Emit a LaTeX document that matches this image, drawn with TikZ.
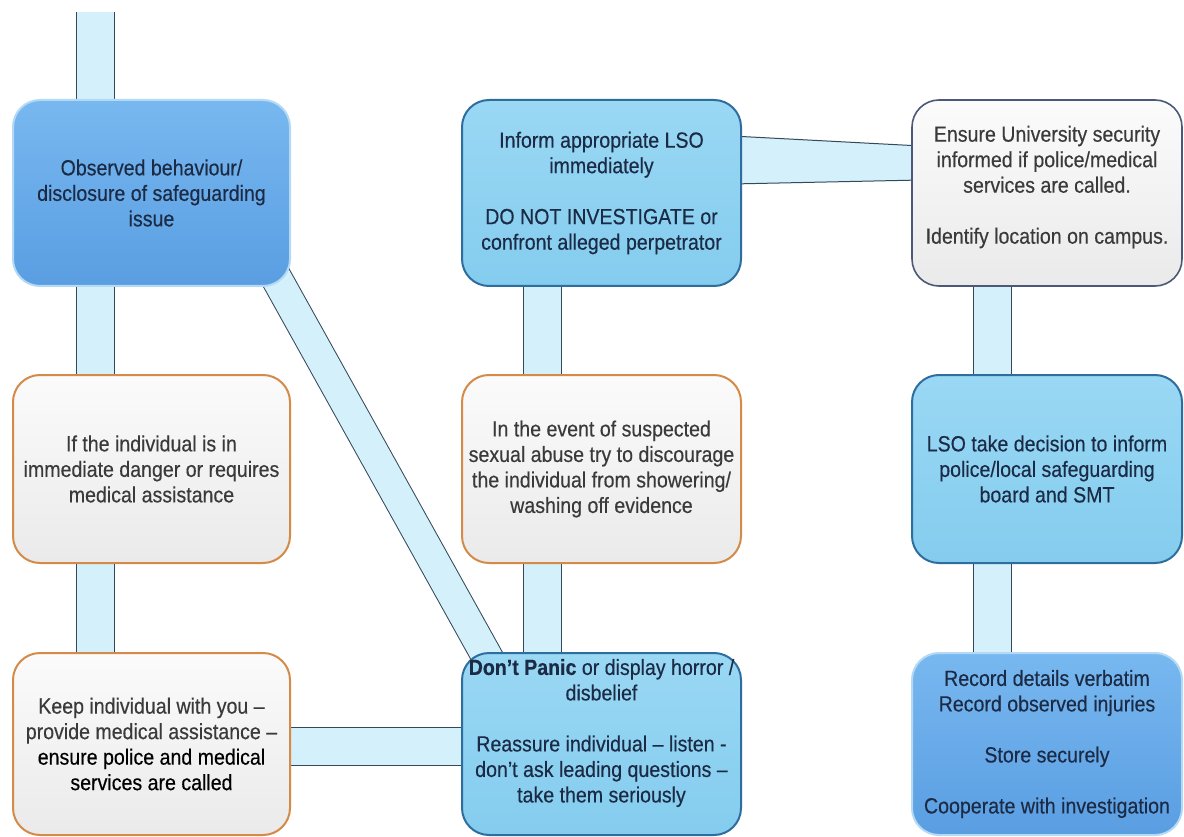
\documentclass[tikz,border=0pt]{standalone}
\usepackage{fontspec}
\setmainfont{Liberation Sans}[FakeStretch=0.89, FakeBold=0.35]
\usetikzlibrary{calc}
\pgfdeclarelayer{back}
\pgfdeclarelayer{bg}
\pgfsetlayers{back,bg,main}
\definecolor{bandfill}{HTML}{D3F0FB}
\definecolor{bandedge}{HTML}{34495A}
\definecolor{dbtop}{HTML}{78B8F0}
\definecolor{dbbot}{HTML}{5A9EE2}
\definecolor{dbedge}{HTML}{B4D9F5}
\definecolor{lbtop}{HTML}{9AD8F4}
\definecolor{lbbot}{HTML}{84CCEE}
\definecolor{lbedge}{HTML}{2E6E9E}
\definecolor{orgedge}{HTML}{D48A48}
\definecolor{grtop}{HTML}{FBFBFB}
\definecolor{grbot}{HTML}{EAEAEA}
\definecolor{gredge}{HTML}{4C5878}
\definecolor{navytext}{HTML}{1C2B45}
\definecolor{graytext}{HTML}{3A3A3A}
\begin{document}
\begin{tikzpicture}[x=1pt,y=-1pt,
  txt/.style={align=center, inner sep=0pt, font=\fontsize{22}{25.5}\selectfont},
  box/.style={rectangle, rounded corners=27pt, txt},
  dbox/.style={box, top color=dbtop, bottom color=dbbot, draw=dbedge, line width=2pt, text=navytext},
  lbox/.style={box, top color=lbtop, bottom color=lbbot, draw=lbedge, line width=2pt, text=navytext},
  obox/.style={box, top color=grtop, bottom color=grbot, draw=orgedge, line width=2pt, text=graytext},
  gbox/.style={box, top color=grtop, bottom color=grbot, draw=gredge, line width=1.6pt, text=graytext},
  colA/.style={minimum width=277pt},
  colB/.style={minimum width=279pt},
  colC/.style={minimum width=270pt},
  rowA/.style={minimum height=186pt},
  rowB/.style={minimum height=188pt},
  rowC/.style={minimum height=182pt},
  band/.style={draw=bandedge, line width=1pt, double=bandfill, double distance=37pt},
  diagband/.style={draw=bandedge, line width=1pt, double=bandfill, double distance=30pt},
]
\useasboundingbox (0,0) rectangle (1184,837);
\begin{pgfonlayer}{back}
\fill[white] (0,0) rectangle (1184,837);
\end{pgfonlayer}

% column / row guide coordinates for the bands
\coordinate (c1) at (95.5,0);
\coordinate (c2) at (542.5,0);
\coordinate (c3) at (992,0);
\coordinate (r3) at (0,746.5);
\coordinate (topend) at (95.5,12);

% boxes
\node[dbox, colA, rowA] (n1) at (151.5,193) {Observed behaviour/\\disclosure of safeguarding\\issue};
\node[lbox, colB, rowA] (n2) at (601.5,193) {Inform appropriate LSO\\immediately\\[25.5pt]DO NOT INVESTIGATE or\\confront alleged perpetrator};
\node[gbox, colC, rowA] (n3) at (1047,193) {};
\node[txt, text=graytext] (n3t) at ([yshift=6pt]n3.center) {Ensure University security\\informed if police/medical\\services are called.\\[25.5pt]Identify location on campus.};

\node[obox, colA, rowB] (n4) at (151.5,469) {If the individual is in\\immediate danger or requires\\medical assistance};
\node[obox, colB, rowB] (n5) at (601.5,469) {In the event of suspected\\sexual abuse try to discourage\\the individual from showering/\\washing off evidence};
\node[lbox, colC, rowB] (n6) at (1047,469) {LSO take decision to inform\\police/local safeguarding\\board and SMT};

\node[obox, colA, rowC] (n7) at (151.5,744) {Keep individual with you –\\provide medical assistance –\\\textcolor{black}{ensure police and medical}\\\textcolor{black}{services are called}};
\node[lbox, colB, rowC] (n8) at (601.5,744) {};
\node[txt, text=navytext] (n8t) at ([yshift=11pt]n8.center) {\textbf{Don’t Panic} or display horror /\\disbelief\\[25.5pt]Reassure individual – listen -\\don’t ask leading questions –\\take them seriously};
\node[dbox, colC, rowC] (n9) at (1047,744) {Record details verbatim\\Record observed injuries\\[25.5pt]Store securely\\[25.5pt]Cooperate with investigation};

% connector bands (behind the boxes)
\begin{pgfonlayer}{bg}
  \draw[band] (topend) -- (n1.center -| c1);
  \draw[band] (n1.center -| c1) -- (n4.center -| c1);
  \draw[band] (n4.center -| c1) -- (n7.center -| c1);
  \draw[band] (n2.center -| c2) -- (n5.center -| c2);
  \draw[band] (n5.center -| c2) -- (n8.center -| c2);
  \draw[band] (n3.center -| c3) -- (n6.center -| c3);
  \draw[band] (n6.center -| c3) -- (n9.center -| c3);
  \draw[band] (n7.center |- r3) -- (n8.center |- r3);
  \draw[diagband] ([shift={(-28,-33)}]n1.south east) -- ([shift={(38,26)}]n8.north west);
  % slightly tapered band between n2 and n3
  \fill[bandfill] ([shift={(-10,-57)}]n2.east) -- ([shift={(10,-47)}]n3.west)
     -- ([shift={(10,-13)}]n3.west) -- ([shift={(-10,-9)}]n2.east) -- cycle;
  \draw[bandedge, line width=1pt] ([shift={(-10,-57)}]n2.east) -- ([shift={(10,-47)}]n3.west);
  \draw[bandedge, line width=1pt] ([shift={(-10,-9)}]n2.east) -- ([shift={(10,-13)}]n3.west);
\end{pgfonlayer}
\end{tikzpicture}
\end{document}
